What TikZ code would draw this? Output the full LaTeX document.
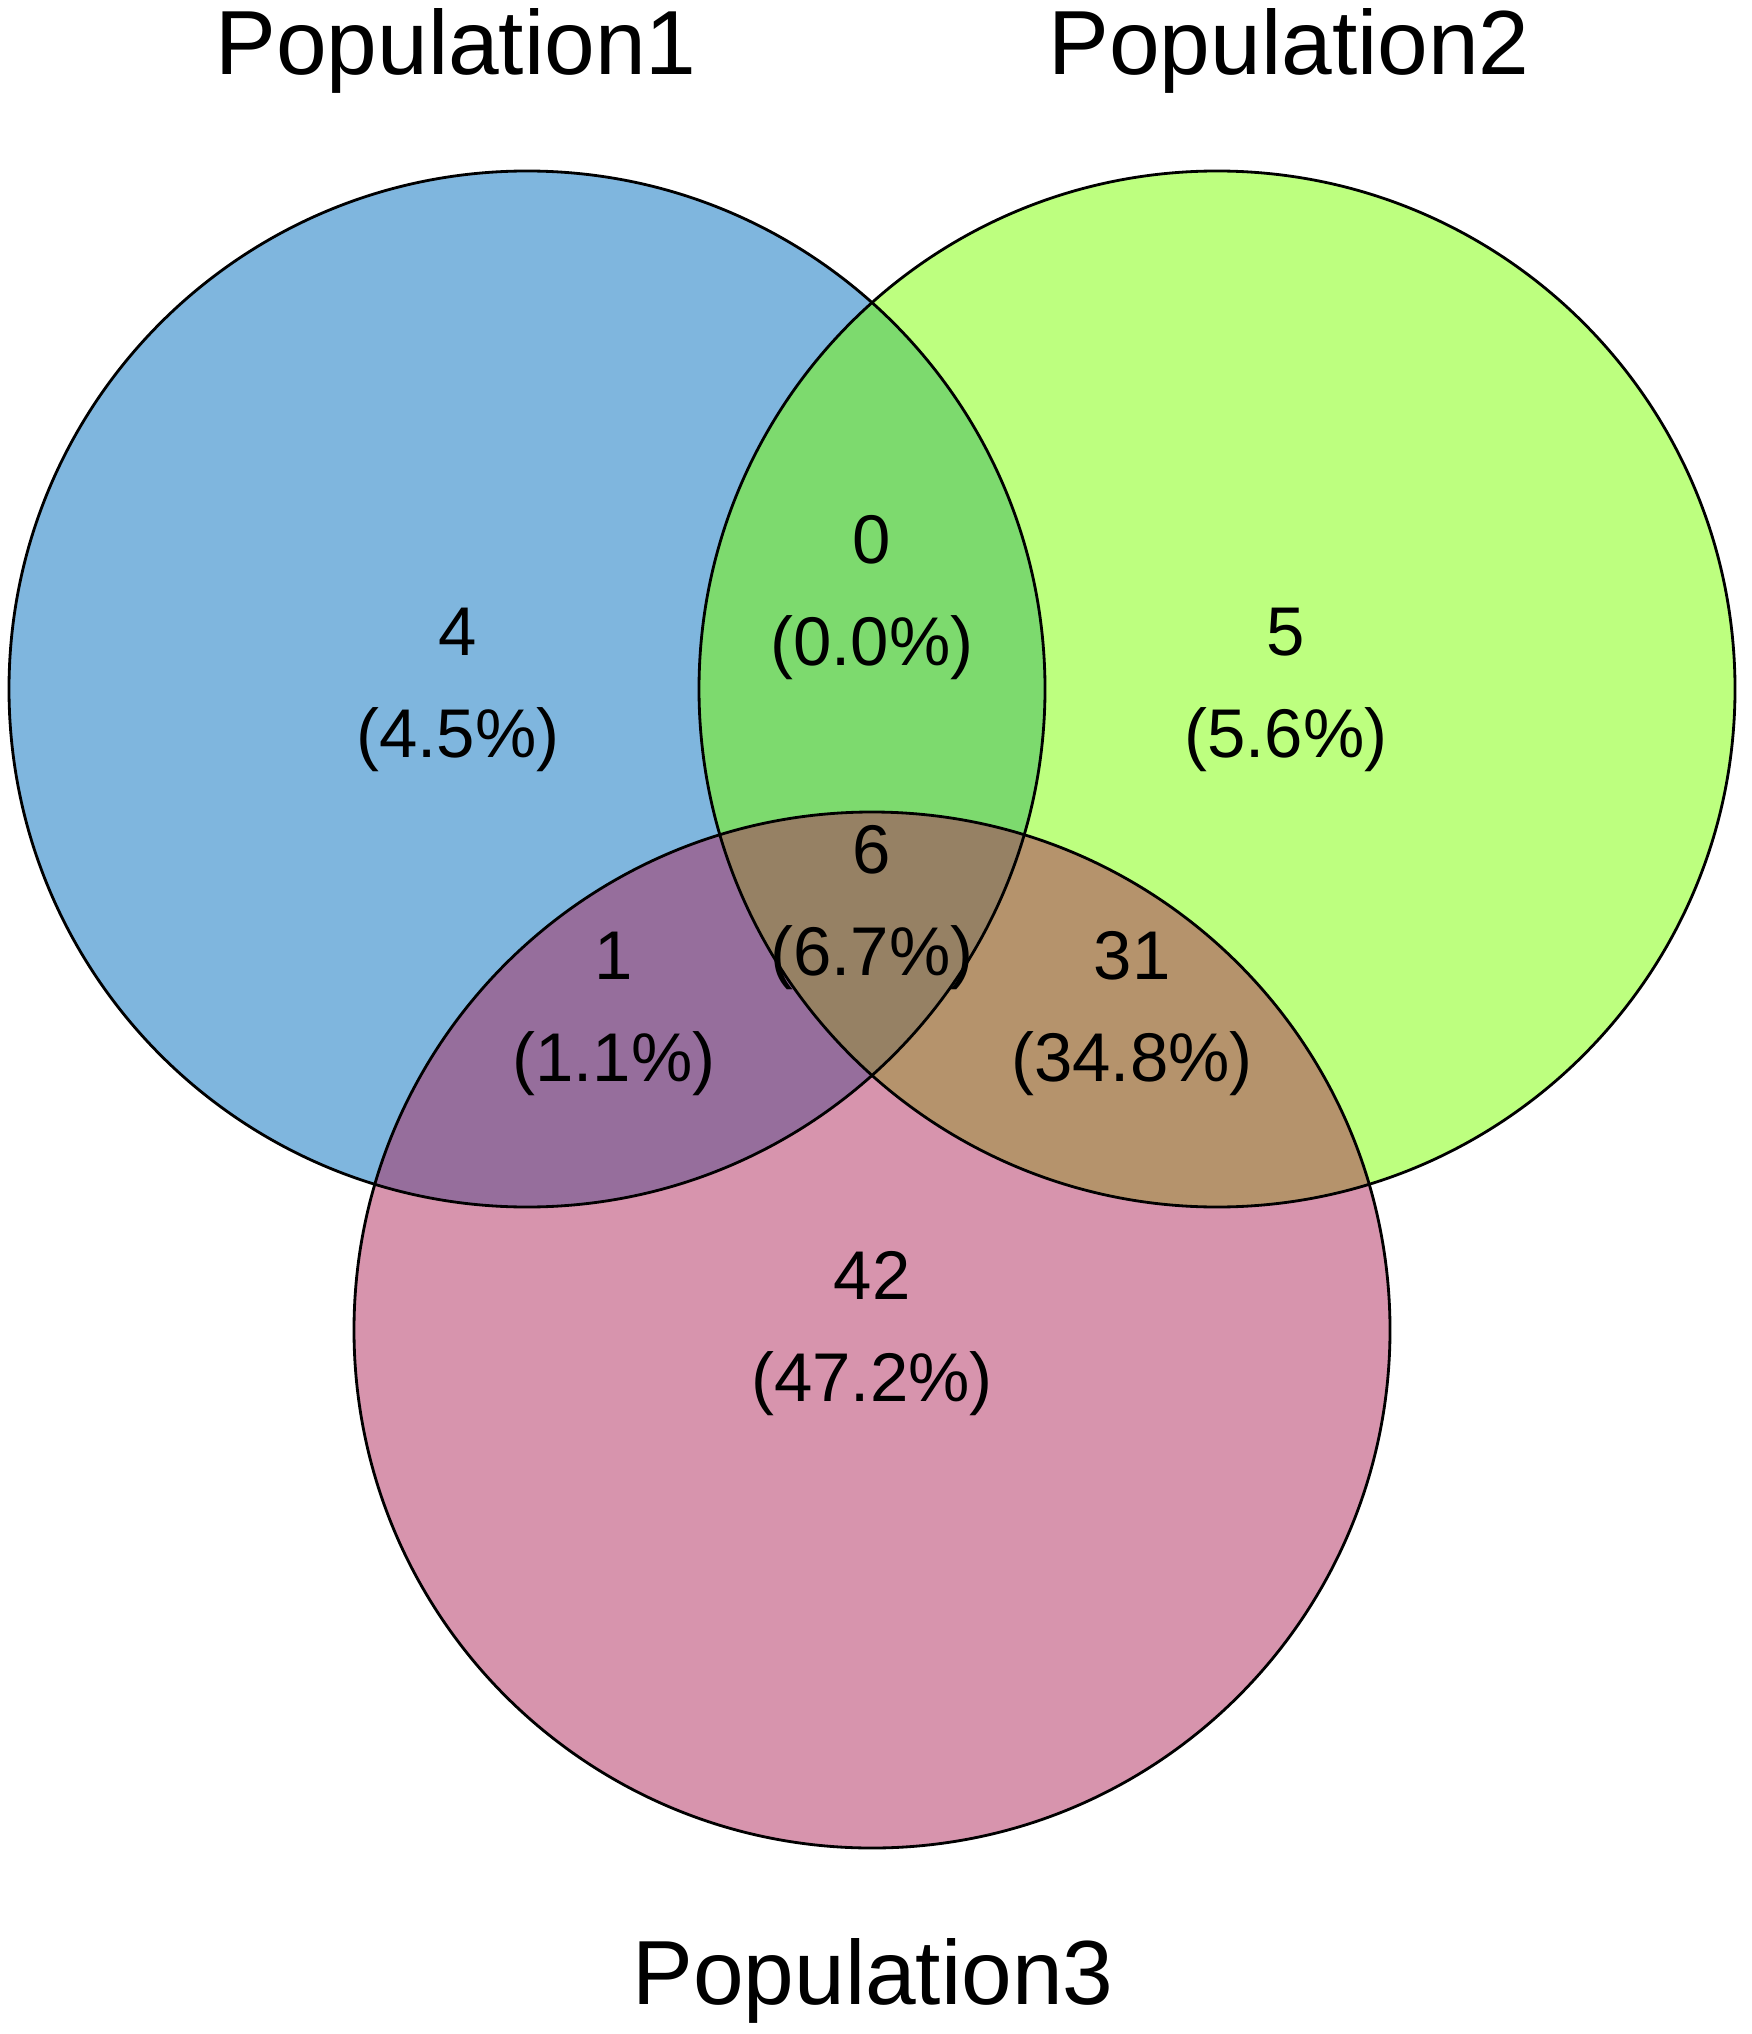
\documentclass[tikz,border=0pt]{standalone}
\usepackage{fontspec}
\setmainfont{Liberation Sans}
\usepackage{xcolor}
\usepackage{tikz}
\usetikzlibrary{positioning}
\definecolor{popA}{RGB}{0,109,189}
\definecolor{popB}{RGB}{123,255,0}
\definecolor{popC}{RGB}{175,41,91}
\tikzset{
  setfill/.style={fill=#1,fill opacity=0.5},
  setline/.style={draw=black,line width=0.8pt},
  title/.style={anchor=base,inner sep=0pt,font=\fontsize{25.9}{31}\selectfont},
  count/.style={align=center,inner sep=0pt,font=\fontsize{19.6}{29}\selectfont},
}

\begin{document}
\begin{tikzpicture}[x=0.01cm,y=-0.01cm]
      \useasboundingbox (0,0) rectangle (1751,2034);
      \coordinate (cA) at (527,689);
      \coordinate (cB) at (1217,689);
      \coordinate (cC) at (872,1330);

      % --- the three sets ---
      \fill[setfill=popA] (cA) circle (518);
      \fill[setfill=popB] (cB) circle (518);
      \fill[setfill=popC] (cC) circle (518);
      \draw[setline] (cA) circle (518);
      \draw[setline] (cB) circle (518);
      \draw[setline] (cC) circle (518);

      % --- set names ---
      \node[title] (tA) at (456,75) {Population1};
      \node[title] (tB) at (1289,75) {Population2};
      \node[title] (tC) at (873,2004) {Population3};

      % --- region counts ---
      \node[count] (a)   at (458,690)  {4\\(4.5\%)};
      \node[count] (ab)  at (872,598)  {0\\(0.0\%)};
      \node[count] (b)   at (1286,690) {5\\(5.6\%)};
      \node[count] (abc) at (872,908)  {6\\(6.7\%)};
      \node[count] (ac)  at (614,1014) {1\\(1.1\%)};
      \node[count] (bc)  at (1132,1014) {31\\(34.8\%)};
      \node[count] (c)   at (872,1334) {42\\(47.2\%)};
\end{tikzpicture}
\end{document}
